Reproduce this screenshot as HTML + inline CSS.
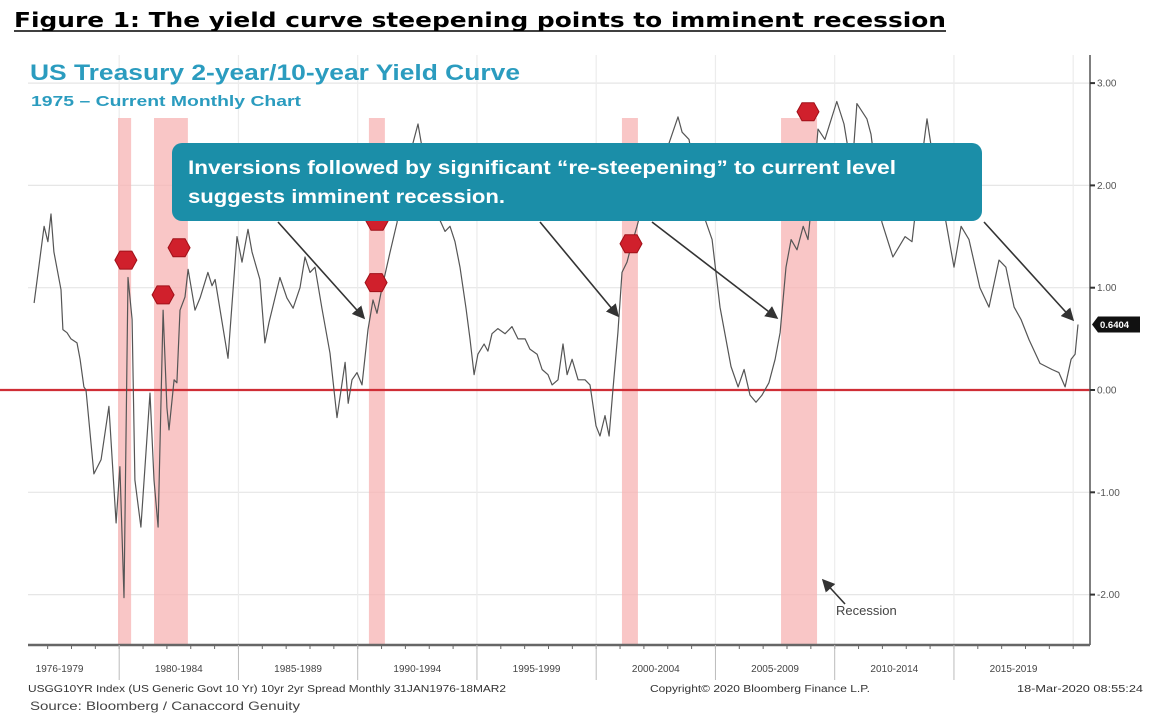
<!DOCTYPE html>
<html><head><meta charset="utf-8"><style>
html,body{margin:0;padding:0;background:#fff;}
svg{display:block;}
</style></head><body>
<svg id="chart" width="1165" height="723" viewBox="0 0 1165 723" xmlns="http://www.w3.org/2000/svg">
<text x="14" y="27" font-family="DejaVu Sans, sans-serif" font-weight="bold" font-size="20" fill="#000" textLength="932" lengthAdjust="spacingAndGlyphs">Figure 1: The yield curve steepening points to imminent recession</text>
<line x1="14" y1="31" x2="946" y2="31" stroke="#000" stroke-width="1.6"/>
<g id="grid"></g><g id="bands"></g><g id="zero"></g><g id="series"></g><g id="markers"></g><g id="axes"></g>
<text x="30" y="80" font-family="Liberation Sans, sans-serif" font-weight="bold" font-size="22" fill="#2b9cbf" textLength="490" lengthAdjust="spacingAndGlyphs">US Treasury 2-year/10-year Yield Curve</text>
<text x="31" y="106" font-family="Liberation Sans, sans-serif" font-weight="bold" font-size="15" fill="#2b9cbf" textLength="270" lengthAdjust="spacingAndGlyphs">1975 – Current Monthly Chart</text>
<g id="callout">
<rect x="172" y="143" width="810" height="78" rx="10" fill="#1b8ea8"/>
<text x="188" y="174" font-family="Liberation Sans, sans-serif" font-weight="bold" font-size="19" fill="#fff" textLength="708" lengthAdjust="spacingAndGlyphs">Inversions followed by significant “re-steepening” to current level</text>
<text x="188" y="203" font-family="Liberation Sans, sans-serif" font-weight="bold" font-size="19" fill="#fff" textLength="317" lengthAdjust="spacingAndGlyphs">suggests imminent recession.</text>
</g>
<g id="arrows"></g>
<text x="836" y="615" font-family="Liberation Sans, sans-serif" font-size="13" fill="#444">Recession</text>
<g id="footer">
<text x="28" y="692" font-family="Liberation Sans, sans-serif" font-size="10" fill="#333" textLength="478" lengthAdjust="spacingAndGlyphs">USGG10YR Index (US Generic Govt 10 Yr) 10yr 2yr Spread  Monthly 31JAN1976-18MAR2</text>
<text x="650" y="692" font-family="Liberation Sans, sans-serif" font-size="10" fill="#333" textLength="220" lengthAdjust="spacingAndGlyphs">Copyright© 2020 Bloomberg Finance L.P.</text>
<text x="1017" y="692" font-family="Liberation Sans, sans-serif" font-size="10" fill="#333" textLength="126" lengthAdjust="spacingAndGlyphs">18-Mar-2020 08:55:24</text>
<text x="30" y="710" font-family="Liberation Sans, sans-serif" font-size="12" fill="#444" textLength="270" lengthAdjust="spacingAndGlyphs">Source: Bloomberg / Canaccord Genuity</text>
</g>
</svg>
<script>
const years = [1976.43,1976.60,1976.85,1977.01,1977.14,1977.26,1977.56,1977.64,1977.81,1977.98,1978.23,1978.36,1978.52,1978.61,1978.94,1979.24,1979.57,1979.87,1980.03,1980.20,1980.37,1980.54,1980.66,1980.91,1981.29,1981.46,1981.63,1981.84,1982.00,1982.09,1982.30,1982.42,1982.55,1982.76,1982.89,1983.18,1983.39,1983.72,1983.89,1984.02,1984.56,1984.94,1985.15,1985.40,1985.57,1985.90,1986.11,1986.28,1986.74,1987.03,1987.29,1987.58,1987.79,1988.00,1988.21,1988.50,1988.84,1989.13,1989.47,1989.60,1989.76,1989.97,1990.18,1990.43,1990.64,1990.81,1991.02,1991.35,1991.65,1991.77,1992.19,1992.53,1992.82,1993.11,1993.37,1993.66,1993.87,1994.08,1994.29,1994.54,1994.71,1994.88,1995.04,1995.30,1995.46,1995.63,1995.88,1996.18,1996.47,1996.72,1997.02,1997.22,1997.52,1997.73,1997.98,1998.15,1998.40,1998.61,1998.78,1998.99,1999.24,1999.53,1999.74,1999.99,2000.16,2000.37,2000.54,2000.70,2000.91,2001.08,2001.29,2001.46,2001.71,2002.05,2002.47,2002.89,2003.43,2003.60,2003.89,2004.23,2004.56,2004.86,2005.19,2005.65,2005.95,2006.20,2006.45,2006.70,2006.95,2007.24,2007.50,2007.71,2007.96,2008.17,2008.42,2008.68,2008.88,2009.13,2009.30,2009.59,2010.09,2010.39,2010.72,2010.93,2011.35,2011.52,2011.98,2012.44,2012.95,2013.24,2013.58,2013.87,2014.21,2014.62,2015.00,2015.30,2015.63,2016.09,2016.47,2016.89,2017.18,2017.52,2017.81,2018.15,2018.61,2019.11,2019.40,2019.66,2019.91,2020.08,2020.20];
const spread = [0.85,1.15,1.6,1.45,1.72,1.35,0.98,0.59,0.56,0.5,0.46,0.3,0.03,0.0,-0.82,-0.68,-0.16,-1.3,-0.75,-2.03,1.1,0.69,-0.88,-1.34,-0.03,-0.88,-1.34,0.78,-0.17,-0.39,0.1,0.07,0.78,0.91,1.18,0.78,0.9,1.15,1.02,1.08,0.31,1.5,1.25,1.57,1.35,1.08,0.46,0.66,1.1,0.9,0.8,1.0,1.3,1.15,1.2,0.8,0.36,-0.27,0.27,-0.13,0.1,0.17,0.05,0.59,0.88,0.75,1.0,1.34,1.64,1.9,2.3,2.6,2.2,2.1,1.7,1.55,1.6,1.45,1.2,0.8,0.5,0.15,0.35,0.45,0.38,0.55,0.6,0.55,0.62,0.5,0.5,0.4,0.35,0.2,0.15,0.05,0.1,0.45,0.15,0.3,0.1,0.1,0.05,-0.35,-0.45,-0.25,-0.45,0.0,0.56,1.15,1.25,1.4,1.6,1.9,1.86,2.3,2.67,2.52,2.45,2.0,1.67,1.47,0.81,0.23,0.03,0.2,-0.05,-0.12,-0.05,0.07,0.3,0.56,1.2,1.47,1.37,1.6,1.47,2.06,2.55,2.45,2.82,2.6,2.13,2.8,2.65,2.5,1.64,1.3,1.5,1.45,2.13,2.65,2.13,1.7,1.2,1.6,1.47,1.0,0.81,1.27,1.2,0.81,0.69,0.49,0.26,0.2,0.17,0.03,0.3,0.35,0.64];
const recessionStarts = [1979.95,1981.46,1990.47,2001.08,2007.75];
const recessionEnds = [1980.5,1982.88,1991.14,2001.75,2009.26];
const markerYears = [1980.28,1981.84,1982.51,1990.81,1990.77,2001.46,2008.88];
const markerValues = [1.27,0.93,1.39,1.65,1.05,1.43,2.72];
const yTicks = [3,2,1,0,-1,-2];
const yTickLabels = ["3.00","2.00","1.00","0.00","-1.00","-2.00"];
const periodStarts = [1975,1980,1985,1990,1995,2000,2005,2010,2015];
const periodLabels = ["1976-1979","1980-1984","1985-1989","1990-1994","1995-1999","2000-2004","2005-2009","2010-2014","2015-2019"];
const lastValueLabel = "0.6404";

const NS="http://www.w3.org/2000/svg";
const X = yr => 119.2 + (yr-1980)*23.85;
const Y = v => 390 - v*102.3;
const L=28, R=1090, T=55, B=645;
function mk(tag, attrs, parent){const e=document.createElementNS(NS,tag);for(const k in attrs)e.setAttribute(k,attrs[k]);document.getElementById(parent).appendChild(e);return e;}

yTicks.forEach((v,i)=>{
  const g=mk('line',{x1:L,x2:R,y1:Y(v),y2:Y(v),stroke:'#e6e6e6','stroke-width':1.2},'grid');
  
  
});
periodStarts.slice(1).concat([2020]).forEach(yr=>{
  const g=mk('line',{x1:X(yr),x2:X(yr),y1:T,y2:B,stroke:'#ececec','stroke-width':1.2},'grid');
  
  
});
recessionStarts.forEach((s,i)=>{
  const r=mk('rect',{x:X(s),y:118,width:X(recessionEnds[i])-X(s),height:B-118,fill:'#f7b3b3','fill-opacity':0.75},'bands');
  
  
});
const z=mk('line',{x1:0,x2:R,y1:Y(0),y2:Y(0),stroke:'#cf2e36','stroke-width':2.2},'zero');


const p=mk('polyline',{points:years.map((y,i)=>X(y).toFixed(1)+','+Y(spread[i]).toFixed(1)).join(' '),fill:'none',stroke:'#555','stroke-width':1.2,'stroke-linejoin':'round'},'series');


markerYears.forEach((yr,i)=>{
  const cx=X(yr), cy=Y(markerValues[i]);
  const pts=[[-11,0],[-6,-9],[6,-9],[11,0],[6,9],[-6,9]].map(q=>(cx+q[0])+','+(cy+q[1])).join(' ');
  const m=mk('polygon',{points:pts,fill:'#d0202c',stroke:'#a01018','stroke-width':1},'markers');
  
  
});
const ra=mk('line',{x1:R,x2:R,y1:T,y2:B,stroke:'#555','stroke-width':1.5},'axes');


const ba=mk('line',{x1:L,x2:R,y1:B,y2:B,stroke:'#666','stroke-width':2.5},'axes');


yTicks.forEach((v,i)=>{
  const tk=mk('line',{x1:R,x2:R+5,y1:Y(v),y2:Y(v),stroke:'#333','stroke-width':2},'axes');
  
  
  const t=mk('text',{x:R+7,y:Y(v)+3.5,'font-family':'Liberation Sans, sans-serif','font-size':10,fill:'#555'},'axes');
  
  
  t.textContent=yTickLabels[i];
});
for(let yr=1977;yr<=2020;yr++){
  const tk=mk('line',{x1:X(yr),x2:X(yr),y1:B,y2:B+4,stroke:'#666','stroke-width':1},'axes');
  
  
}
periodStarts.forEach((yr,i)=>{
  if(i>0){const s=mk('line',{x1:X(yr),x2:X(yr),y1:B,y2:B+35,stroke:'#bbb','stroke-width':1},'axes');
  
  }
  const t=mk('text',{x:X(yr+2.5),y:B+27,'text-anchor':'middle','font-family':'Liberation Sans, sans-serif','font-size':10,fill:'#444'},'axes');
  
  
  t.textContent=periodLabels[i];
});
const lv=Y(spread[spread.length-1]);
const tag=mk('path',{d:`M${R+2} ${lv} L${R+8} ${lv-8} H${R+50} V${lv+8} H${R+8} Z`,fill:'#111'},'axes');


const tt=mk('text',{x:R+10,y:lv+3.5,'font-family':'Liberation Sans, sans-serif','font-size':9.5,fill:'#fff','font-weight':'bold'},'axes');


tt.textContent=lastValueLabel;
const defs=document.createElementNS(NS,'defs');
defs.innerHTML='<marker id="ah" markerWidth="8" markerHeight="8" refX="7" refY="4" orient="auto"><path d="M0,0 L8,4 L0,8 Z" fill="#333"/></marker>';
document.getElementById('chart').insertBefore(defs,document.getElementById('chart').firstChild);
[[278,222,364,318],[540,222,618,316],[652,222,777,318],[984,222,1073,320],[845,604,823,580]].forEach(a=>{
  const l=mk('line',{x1:a[0],y1:a[1],x2:a[2],y2:a[3],stroke:'#333','stroke-width':1.6,'marker-end':'url(#ah)'},'arrows');
  
  
});
</script>
</body></html>
